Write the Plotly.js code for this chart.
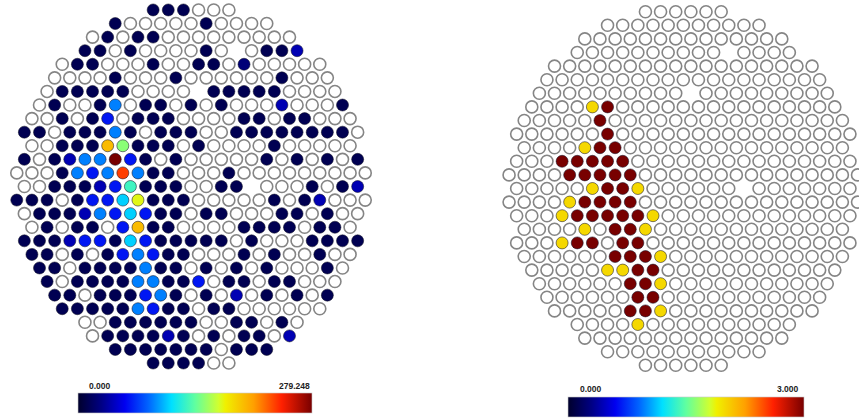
<!DOCTYPE html>
<html><head><meta charset="utf-8">
<script src="https://cdn.plot.ly/plotly-3.0.1.min.js"></script>
<style>html,body{margin:0;padding:0;background:#fff}#chart{width:859px;height:419px}</style>
</head><body><div id="chart"></div>
<script>
// value levels (left camera, scale 0 .. 279.248)
const _ = 0, X = null;   // _ = no signal (white pixel), X = pixel not drawn
const D=12, D2=24, M=40, B=62, LB=90, C=108, AQ=130, G=150, Y=172, O=198, R=235, DR=279.248;
const leftMin = 0, leftMax = 279.248;
const rightMin = 0, rightMax = 3.0;
const leftLabels = ["0.000", "279.248"];
const rightLabels = ["0.000", "3.000"];

// left camera: one array per pixel row, top to bottom
const leftRows = [
 [D,D,D,_,_,_],
 [D,_,_,_,_,_,D,_,_,_,_],
 [_,D,_,D,D,_,_,_,_,_,_,_,_,_],
 [D,D,_,D,_,_,_,_,D,_,X,_,D,D,M],
 [_,D,D,_,_,_,D,_,_,D,D,_,D2,_,_,_,_,_],
 [_,_,_,_,D,_,_,_,D,_,_,_,_,_,_,D,_,_,_],
 [_,D,D,D,D,D,_,_,_,_,X,D,D,D,D,D,_,_,_,_],
 [_,D,_,_,D,LB,_,D,D,_,D,_,D,_,_,_,M,_,_,_,D],
 [_,_,D,_,D,B,_,D,D,D,_,_,_,_,D,D,_,D,D,_,_,_],
 [D,D,_,D,D,D,LB,D,_,D,D,D,_,_,D,D,D,D,D,D,D,D,_],
 [_,_,D,D,D,O,G,D,D,D,_,D,_,_,_,_,D,_,_,_,_,_],
 [D,_,D,M,LB,LB,DR,B,D,_,D,_,_,_,_,_,D,_,D,_,D,_,D],
 [_,_,_,D,LB,B,LB,R,LB,D,D,_,_,_,D,_,_,_,_,_,_,_,_,_],
 [_,_,D,D,D,M,B,AQ,D,D,D,_,_,D,D,X,_,_,_,D,_,D,M],
 [D,D,D,_,D,B,B,C,Y,D,D,D,_,_,_,_,_,D,_,D,M,_,_,_],
 [_,D,D,D,M,LB,B,C,B,D,D,_,D,D,_,_,_,D,D,_,D,_,_],
 [_,D,_,D,D,_,B,O,D,D,_,_,_,_,D,D,D,D,_,D,D,_],
 [D,D,D,M,B,B,D,C,B,D,D,D,D,D,_,D,_,_,_,D,D,D,D],
 [D,D,_,D,_,D,B,LB,B,D,D,_,_,_,D,_,D,_,_,D,_,_],
 [D,D,_,D,D,D,D,LB,D,D,_,D,_,D,_,D,_,_,_,D,_],
 [D,_,D,D,D,D,LB,LB,D,D,B,_,D,D,_,D,D,_,_,_],
 [D,D,_,D,D,D,B,LB,D,_,D,_,M,_,D,_,D,_,D],
 [D,D,D,D,D,LB,B,D,D,_,D,D,_,_,_,_,_,_],
 [_,_,D,D,D,D,D,D,_,_,D,D,_,D,_],
 [_,D,D,D,D,M,D,_,D,_,D,D,_,M],
 [D,D,D,D,D,D,D,_,D,D,D],
 [D,D,D,D,_,_]
];

// right camera (scale 0 .. 3)
const rightRows = [
 [0,0,0,0,0,0],
 [0,0,0,0,0,0,0,0,0,0,0],
 [0,0,0,0,0,0,0,0,0,0,0,0,0,0],
 [0,0,0,0,0,0,0,0,0,0,X,0,0,0,0],
 [0,0,0,0,0,0,0,0,0,0,0,0,0,0,0,0,0,0],
 [0,0,0,0,0,0,0,0,0,0,0,0,0,0,0,0,0,0,0],
 [0,0,0,0,0,0,0,0,0,0,X,0,0,0,0,0,0,0,0,0],
 [0,0,0,0,2,3,0,0,0,0,0,0,0,0,0,0,0,0,0,0,0],
 [0,0,0,0,0,3,0,0,0,0,0,0,0,0,0,0,0,0,0,0,0,0],
 [0,0,0,0,0,0,3,0,0,0,0,0,0,0,0,0,0,0,0,0,0,0,0],
 [0,0,0,0,2,3,3,0,0,0,0,0,0,0,0,0,0,0,0,0,0,0],
 [0,0,0,3,3,3,3,3,0,0,0,0,0,0,0,0,0,0,0,0,0,0,0],
 [0,0,0,0,3,3,3,3,3,0,0,0,0,0,0,0,0,0,0,0,0,0,0,0],
 [0,0,0,0,0,2,3,3,2,0,0,0,0,0,0,X,0,0,0,0,0,0,0],
 [0,0,0,0,2,3,3,3,3,0,0,0,0,0,0,0,0,0,0,0,0,0,0,0],
 [0,0,0,2,3,3,3,3,3,2,0,0,0,0,0,0,0,0,0,0,0,0,0],
 [0,0,0,0,2,0,3,3,2,0,0,0,0,0,0,0,0,0,0,0,0,0],
 [0,0,0,2,3,3,0,3,3,0,0,0,0,0,0,0,0,0,0,0,0,0,0],
 [0,0,0,0,0,0,3,3,3,2,0,0,0,0,0,0,0,0,0,0,0,0],
 [0,0,0,0,0,2,2,3,3,0,0,0,0,0,0,0,0,0,0,0,0],
 [0,0,0,0,0,0,3,3,2,0,0,0,0,0,0,0,0,0,0,0],
 [0,0,0,0,0,0,3,3,0,0,0,0,0,0,0,0,0,0,0],
 [0,0,0,0,0,3,3,2,0,0,0,0,0,0,0,0,0,0],
 [0,0,0,0,2,0,0,0,0,0,0,0,0,0,0],
 [0,0,0,0,0,0,0,0,0,0,0,0,0,0],
 [0,0,0,0,0,0,0,0,0,0,0],
 [0,0,0,0,0,0]
];

const jet = [
 [0,'#00002c'],[0.1,'#000084'],[0.2,'#0000f0'],[0.3,'#0064ff'],[0.4,'#00e0ff'],
 [0.5,'#60ffa0'],[0.6,'#d0ff30'],[0.63,'#f0f000'],[0.75,'#ffa000'],[0.87,'#ff2000'],[1,'#780000']
];

// hexagonal camera geometry: row r, position i -> (x in pixel pitches, y in row pitches)
function camera(rows) {
  const n = rows.length, mid = (n - 1) / 2;
  const e = {x: [], y: []}, s = {x: [], y: [], v: []};
  rows.forEach((row, r) => {
    const off = (row.length - 1) / 2;
    row.forEach((v, i) => {
      if (v === null) return;
      const px = i - off, py = mid - r;
      if (v > 0) { s.x.push(px); s.y.push(py); s.v.push(v); }
      else { e.x.push(px); e.y.push(py); }
    });
  });
  return {e, s};
}

const L = camera(leftRows), Rc = camera(rightRows);
const SZ = 12;
function emptyTrace(c, xa, ya) {
  return {type:'scatter', mode:'markers', x:c.e.x, y:c.e.y, xaxis:xa, yaxis:ya, hoverinfo:'skip',
    marker:{size:SZ, color:'#ffffff', line:{color:'#858585', width:1.6}}, showlegend:false};
}
function signalTrace(c, xa, ya, cmin, cmax, cbx, cby, cblen) {
  return {type:'scatter', mode:'markers', x:c.s.x, y:c.s.y, xaxis:xa, yaxis:ya,
    marker:{size:SZ, color:c.s.v, cmin:cmin, cmax:cmax, colorscale:jet,
      line:{color:'rgba(20,20,40,0.55)', width:1},
      showscale:true,
      colorbar:{orientation:'h', x:cbx, xanchor:'left', y:cby, yanchor:'top',
        len:cblen, lenmode:'pixels', thickness:20, xpad:0, ypad:0,
        outlinewidth:0.6, outlinecolor:'#c8c8c8', showticklabels:false, ticks:''}},
    showlegend:false};
}

const W = 859, H = 419;
const PX = 15.15, PYl = 13.58, PYr = 13.6;
const lcx = 191, lcy = 186.5, rcx = 683.3, rcy = 188.5;
const half = 429.5;

const data = [
  emptyTrace(L, 'x', 'y'),
  signalTrace(L, 'x', 'y', leftMin, leftMax, 78/W, 1 - 393/H, 234),
  emptyTrace(Rc, 'x2', 'y2'),
  signalTrace(Rc, 'x2', 'y2', rightMin, rightMax, 568/W, 1 - 397/H, 236)
];

const ax = (dom, r) => ({domain:dom, range:r, visible:false, fixedrange:true});
const lblFont = {family:'Liberation Sans, Arial, sans-serif', size:8.5, color:'#222', weight:'bold'};
// thin yellow / light-blue sliver at the low end of each colour bar
const edge = (x, y0, y1, col) => ({type:'line', xref:'paper', yref:'paper', x0:x/W, x1:x/W, y0:1-y0/H, y1:1-y1/H, line:{color:col, width:1}, layer:'above'});
const layout = {
  width:W, height:H, margin:{l:0, r:0, t:0, b:0},
  paper_bgcolor:'#ffffff', plot_bgcolor:'rgba(0,0,0,0)',
  xaxis: ax([0, half/W], [-lcx/PX, (half - lcx)/PX]),
  yaxis: ax([0, 1], [(lcy - H)/PYl, lcy/PYl]),
  xaxis2: ax([half/W, 1], [(half - rcx)/PX, (W - rcx)/PX]),
  yaxis2: ax([0, 1], [(rcy - H)/PYr, rcy/PYr]),
  shapes: [
    edge(78.5, 393, 413, '#e8d040'), edge(79.5, 393, 413, '#3aa0d8'),
    edge(568.5, 397, 417, '#e8d040'), edge(569.5, 397, 417, '#3aa0d8')
  ],
  annotations: [
    {xref:'paper', yref:'paper', x:87/W, y:1-386/H, xanchor:'left', yanchor:'middle', showarrow:false, text:leftLabels[0], font:lblFont},
    {xref:'paper', yref:'paper', x:312/W, y:1-386/H, xanchor:'right', yanchor:'middle', showarrow:false, text:leftLabels[1], font:lblFont},
    {xref:'paper', yref:'paper', x:578/W, y:1-389/H, xanchor:'left', yanchor:'middle', showarrow:false, text:rightLabels[0], font:lblFont},
    {xref:'paper', yref:'paper', x:801/W, y:1-389/H, xanchor:'right', yanchor:'middle', showarrow:false, text:rightLabels[1], font:lblFont}
  ]
};

Plotly.newPlot('chart', data, layout, {displayModeBar:false, staticPlot:true});
</script>
</body></html>
